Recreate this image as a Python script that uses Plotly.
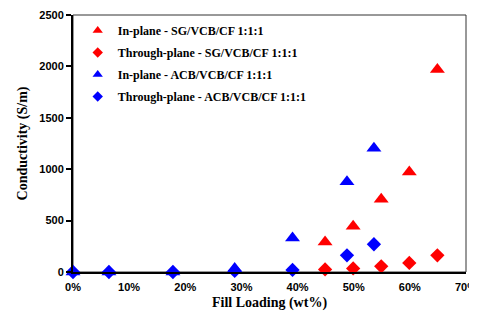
import plotly.graph_objects as go

# Data (fill loading in wt%, conductivity in S/m)
sg_x = [44.9, 49.9, 54.9, 59.9, 64.9]
sg_in = [292, 445, 708, 972, 1970]
sg_through = [25, 35, 55, 88, 162]

acb_x = [0.0, 6.4, 17.8, 28.8, 39.1, 48.8, 53.6]
acb_in = [0, 0, 0, 35, 330, 877, 1205]
acb_through = [0, 0, 0, 10, 20, 162, 270]

names = [
    "In-plane - SG/VCB/CF 1:1:1",
    "Through-plane - SG/VCB/CF 1:1:1",
    "In-plane - ACB/VCB/CF 1:1:1",
    "Through-plane - ACB/VCB/CF 1:1:1",
]

x_ticks = [0, 10, 20, 30, 40, 50, 60, 70]
x_labels = ["0%", "10%", "20%", "30%", "40%", "50%", "60%", "70%"]
y_ticks = [0, 500, 1000, 1500, 2000, 2500]

fig = go.Figure()
series = [
    (sg_x, sg_in, names[0], "red", "triangle-up", 13, 9),
    (sg_x, sg_through, names[1], "red", "diamond", 11, 8),
    (acb_x, acb_in, names[2], "blue", "triangle-up", 13, 9),
    (acb_x, acb_through, names[3], "blue", "diamond", 11, 8),
]
for i, (xs, ys, nm, col, sym, sz, lsz) in enumerate(series):
    fig.add_trace(go.Scatter(
        x=xs, y=ys, name=nm, mode="markers", cliponaxis=False,
        legendgroup=f"g{i}", showlegend=False,
        marker=dict(color=col, symbol=sym, size=sz, line=dict(width=0)),
    ))
for i, (xs, ys, nm, col, sym, sz, lsz) in enumerate(series):
    fig.add_trace(go.Scatter(
        x=[None], y=[None], name=nm, mode="markers",
        legendgroup=f"g{i}", showlegend=True,
        marker=dict(color=col, symbol=sym, size=lsz, line=dict(width=0)),
    ))

# The page body has an 8px margin, so the figure is 8px smaller than the window
fig.update_layout(
    width=469, height=303,
    margin=dict(l=65, r=11, t=7, b=39, autoexpand=False),
    plot_bgcolor="white", paper_bgcolor="white",
    showlegend=True,
    legend=dict(
        x=0.012, y=0.996, xanchor="left", yanchor="top",
        bgcolor="rgba(0,0,0,0)", itemsizing="trace", tracegroupgap=3,
        font=dict(family="Liberation Serif", size=12, color="black", weight="bold"),
    ),
    xaxis=dict(
        range=[0, 70], tickvals=x_ticks, ticktext=x_labels, automargin=False,
        showgrid=False, zeroline=False, showline=True, linecolor="black", linewidth=2,
        ticks="", ticklabelstandoff=4, ticklabeloverflow="allow",
        tickfont=dict(family="Liberation Sans", size=11, color="black", weight="bold"),
        title=dict(text="Fill Loading (wt%)", standoff=15,
                   font=dict(family="Liberation Serif", size=14, color="black", weight="bold")),
    ),
    yaxis=dict(
        range=[0, 2500], tickvals=y_ticks, automargin=False,
        showgrid=False, zeroline=False, showline=True, linecolor="black", linewidth=2,
        ticks="outside", ticklen=5, tickwidth=1.5, tickcolor="black",
        tickfont=dict(family="Liberation Sans", size=11, color="black", weight="bold"),
        title=dict(text="Conductivity (S/m)", standoff=8,
                   font=dict(family="Liberation Serif", size=14, color="black", weight="bold")),
    ),
    shapes=[dict(type="rect", xref="paper", yref="paper", x0=0, y0=0, x1=1, y1=1,
                 line=dict(color="#333333", width=1), layer="below")],
)

fig.write_html("out.html")
